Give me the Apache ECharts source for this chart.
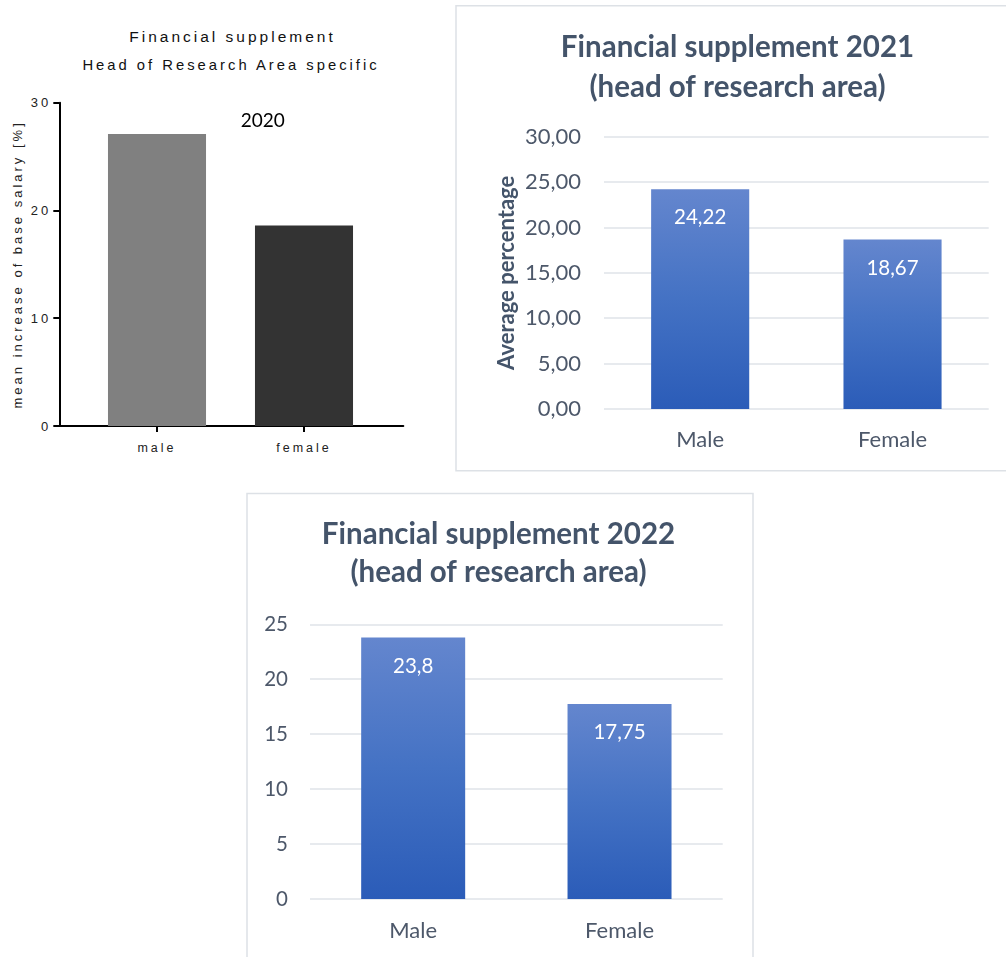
<!DOCTYPE html>
<html><head><meta charset="utf-8">
<script src="https://cdn.jsdelivr.net/npm/echarts@6/dist/echarts.min.js"></script>
<style>
html,body{margin:0;padding:0;background:#fff;}
#wrap{position:relative;width:1006px;height:957px;overflow:hidden;}
#c1{position:absolute;left:0;top:0;width:450px;height:480px;letter-spacing:3px;}
#c2{position:absolute;left:0;top:0;width:1006px;height:957px;}
</style></head>
<body><div id="wrap"><div id="c1"></div><div id="c2"></div></div>
<script>
// ---- data ----
const title2020 = ['Financial supplement', 'Head of Research Area specific'];
const year2020 = '2020';
const cats2020 = ['male', 'female'];
const vals2020 = [27.1, 18.6];
const colors2020 = ['#808080', '#333333'];
const yTicks2020 = [0, 10, 20, 30];
const yName2020 = 'mean increase of base salary [%]';

const title2021 = ['Financial supplement 2021', '(head of research area)'];
const cats2021 = ['Male', 'Female'];
const vals2021 = [24.22, 18.67];
const yTicks2021 = [0, 5, 10, 15, 20, 25, 30];
const yName2021 = 'Average percentage';

const title2022 = ['Financial supplement 2022', '(head of research area)'];
const cats2022 = ['Male', 'Female'];
const vals2022 = [23.8, 17.75];
const yTicks2022 = [0, 5, 10, 15, 20, 25];

// ---- chart 1 (2020) ----
const F1 = '"Liberation Sans", Arial, sans-serif';
const c1 = echarts.init(document.getElementById('c1'), null, {renderer: 'svg'});
const y1min = yTicks2020[0], y1max = yTicks2020[yTicks2020.length - 1], y1int = yTicks2020[1] - yTicks2020[0];
c1.setOption({
  animation: false,
  title: [
    {text: title2020[0], left: 227.5, top: 23, textAlign: 'center',
      textStyle: {fontFamily: F1, fontSize: 15.5, fontWeight: 'normal', color: '#111'}},
    {text: title2020[1], left: 226, top: 52, textAlign: 'center',
      textStyle: {fontFamily: F1, fontSize: 14.8, fontWeight: 'normal', color: '#111'}}
  ],
  grid: [
    {left: 59.3, top: 102.7, width: 344, height: 323.3},
    {left: 83.5, top: 102.7, width: 294, height: 323.3}
  ],
  xAxis: [
    {gridIndex: 0, type: 'category', data: cats2020,
      axisLine: {show: true, lineStyle: {color: '#000', width: 2}}, axisTick: {show: false}, axisLabel: {show: false}},
    {gridIndex: 1, type: 'category', data: cats2020,
      axisLine: {show: false},
      axisTick: {show: true, alignWithLabel: true, length: 6, lineStyle: {color: '#000', width: 2}},
      axisLabel: {fontFamily: F1, fontSize: 12.5, color: '#222', margin: 15}}
  ],
  yAxis: [
    {gridIndex: 0, type: 'value', min: y1min, max: y1max, interval: y1int,
      axisLine: {show: true, lineStyle: {color: '#000', width: 2}},
      axisTick: {show: true, length: 6, lineStyle: {color: '#000', width: 2}},
      splitLine: {show: false},
      axisLabel: {fontFamily: F1, fontSize: 13, color: '#222', margin: 8},
      name: yName2020, nameLocation: 'middle', nameGap: 35,
      nameTextStyle: {fontFamily: F1, fontSize: 13, color: '#222'}},
    {gridIndex: 1, type: 'value', min: y1min, max: y1max, interval: y1int, show: false, splitLine: {show: false}}
  ],
  series: [{
    type: 'bar', xAxisIndex: 1, yAxisIndex: 1, barWidth: '66.7%',
    data: vals2020.map((v, i) => ({value: v, itemStyle: {color: colors2020[i]}}))
  }]
});

// ---- charts 2 & 3 (2021, 2022) ----
const F2 = 'Lato, sans-serif';
const TITLE_C = '#44546a';
const TEXT_C = '#4d586a';
const GRID_C = '#dfe3e8';
const grad = {type: 'linear', x: 0, y: 0, x2: 0, y2: 1,
  colorStops: [{offset: 0, color: '#6486ce'}, {offset: 0.5, color: '#4472c4'}, {offset: 1, color: '#2b5cb8'}]};
const comma = v => String(v).replace('.', ',');

const c2 = echarts.init(document.getElementById('c2'), null, {renderer: 'canvas'});
c2.setOption({
  animation: false,
  backgroundColor: 'transparent',
  graphic: [
    {type: 'rect', z: -1, shape: {x: 456, y: 5.7, width: 580, height: 465}, style: {fill: 'none', stroke: '#dde1e6', lineWidth: 1.5}},
    {type: 'rect', z: -1, shape: {x: 247, y: 493.5, width: 506, height: 480}, style: {fill: 'none', stroke: '#dde1e6', lineWidth: 1.5}}
  ],
  title: [
    {text: title2021.join('\n'), left: 732.5, top: 22, textAlign: 'center',
      textStyle: {fontFamily: F2, fontSize: 29.5, fontWeight: 'bold', color: TITLE_C, lineHeight: 40}},
    {text: title2022.join('\n'), left: 493.5, top: 510, textAlign: 'center',
      textStyle: {fontFamily: F2, fontSize: 29.5, fontWeight: 'bold', color: TITLE_C, lineHeight: 38}},
    {text: year2020, left: 257.7, top: 106, textAlign: 'center',
      textStyle: {fontFamily: F2, fontSize: 19, fontWeight: 'normal', color: '#000'}}
  ],
  grid: [
    {left: 604, top: 136.7, width: 384.7, height: 272.3},
    {left: 310, top: 624.3, width: 412.7, height: 274.7}
  ],
  xAxis: [
    {gridIndex: 0, type: 'category', data: cats2021, axisLine: {show: false}, axisTick: {show: false},
      axisLabel: {fontFamily: F2, fontSize: 22, color: TEXT_C, margin: 20}},
    {gridIndex: 1, type: 'category', data: cats2022, axisLine: {show: false}, axisTick: {show: false},
      axisLabel: {fontFamily: F2, fontSize: 22, color: TEXT_C, margin: 21}}
  ],
  yAxis: [
    {gridIndex: 0, type: 'value', min: yTicks2021[0], max: yTicks2021[yTicks2021.length - 1], interval: yTicks2021[1] - yTicks2021[0],
      axisLine: {show: false}, axisTick: {show: false},
      splitLine: {lineStyle: {color: GRID_C, width: 1.5}},
      axisLabel: {fontFamily: F2, fontSize: 22, color: TEXT_C, margin: 23, formatter: v => v.toFixed(2).replace('.', ',')},
      name: yName2021, nameLocation: 'middle', nameGap: 86,
      nameTextStyle: {fontFamily: F2, fontSize: 22, fontWeight: 'bold', color: TITLE_C}},
    {gridIndex: 1, type: 'value', min: yTicks2022[0], max: yTicks2022[yTicks2022.length - 1], interval: yTicks2022[1] - yTicks2022[0],
      axisLine: {show: false}, axisTick: {show: false},
      splitLine: {lineStyle: {color: GRID_C, width: 1.5}},
      axisLabel: {fontFamily: F2, fontSize: 20.5, color: TEXT_C, margin: 22}}
  ],
  series: [
    {type: 'bar', xAxisIndex: 0, yAxisIndex: 0, barWidth: '51%', data: vals2021,
      itemStyle: {color: grad},
      label: {show: true, position: 'insideTop', distance: 18, fontFamily: F2, fontSize: 20.5, color: '#fff', formatter: p => comma(p.value)}},
    {type: 'bar', xAxisIndex: 1, yAxisIndex: 1, barWidth: '50.4%', data: vals2022,
      itemStyle: {color: grad},
      label: {show: true, position: 'insideTop', distance: 18, fontFamily: F2, fontSize: 20.5, color: '#fff', formatter: p => comma(p.value)}}
  ]
});
</script>
</body></html>
